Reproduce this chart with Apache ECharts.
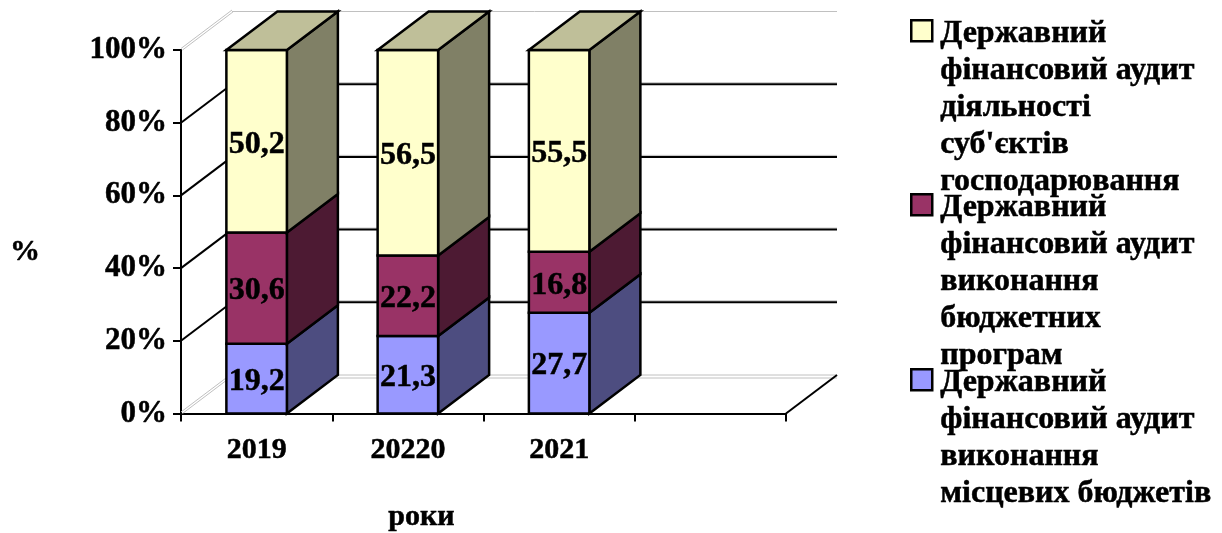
<!DOCTYPE html>
<html><head><meta charset="utf-8">
<style>html,body{margin:0;padding:0;background:#fff}#c{width:1222px;height:533px}</style>
<script src="https://cdn.jsdelivr.net/npm/echarts@6/dist/echarts.min.js"></script>
</head><body><div id="c"></div>
<script>
const categories = ['2019', '20220', '2021', ' '];
const yTicks = [0, 20, 40, 60, 80, 100];
const localBudgets = [19.2, 21.3, 27.7];
const budgetPrograms = [30.6, 22.2, 16.8];
const entities = [50.2, 56.5, 55.5];
const localLines = ['Державний', 'фінансовий аудит', 'виконання', 'місцевих бюджетів'];
const programLines = ['Державний', 'фінансовий аудит', 'виконання', 'бюджетних', 'програм'];
const entityLines = ['Державний', 'фінансовий аудит', 'діяльності', "суб'єктів", 'господарювання'];

const FONT = '"Liberation Serif"';
const DX = 51, DY = -38.5;
const heavy = { textBorderColor: '#000', textBorderWidth: 0.5 };

function segs(values, lower) {
  return values.map((v, i) => {
    const base = lower.reduce((s, a) => s + a[i], 0);
    return [i, base, base + v, v];
  });
}
function barRender(face, side, top, showTop) {
  return function (params, api) {
    const a = api.coord([api.value(0), api.value(1)]);
    const b = api.coord([api.value(0), api.value(2)]);
    const w = api.size([1, 0])[0] * 0.4;
    const l = a[0] - w / 2, r = a[0] + w / 2;
    const stroke = { stroke: '#000', lineWidth: 2.5, lineJoin: 'miter' };
    const children = [
      { type: 'polygon', shape: { points: [[r, a[1]], [r + DX, a[1] + DY], [r + DX, b[1] + DY], [r, b[1]]] }, style: Object.assign({ fill: side }, stroke) },
      { type: 'rect', shape: { x: l, y: b[1], width: w, height: a[1] - b[1] }, style: Object.assign({ fill: face }, stroke) }
    ];
    if (showTop) children.push({ type: 'polygon', shape: { points: [[l, b[1]], [l + DX, b[1] + DY], [r + DX, b[1] + DY], [r, b[1]]] }, style: Object.assign({ fill: top }, stroke) });
    children.push({ type: 'text', style: { text: String(api.value(3)).replace('.', ','), x: a[0], y: (a[1] + b[1]) / 2 + 3, align: 'center', verticalAlign: 'middle', fill: '#000', stroke: '#000', lineWidth: 0.5, font: 'bold 32px ' + FONT } });
    return { type: 'group', children };
  };
}
function wallRender(params, api) {
  const v = api.value(0);
  const p = api.coord([0, v]);
  const q = api.coord([3, v]);
  const halfBand = api.size([1, 0])[0] / 2;
  const x0 = p[0] - halfBand, x1 = q[0] + halfBand, y = p[1];
  const line = (x1a, y1a, x2a, y2a, c, lw) => ({ type: 'line', shape: { x1: x1a, y1: y1a, x2: x2a, y2: y2a }, style: { stroke: c, lineWidth: lw } });
  const ch = [];
  if (v === 0 || v === 100) {
    const grey = '#c0c0c0';
    ch.push(line(x0, y - 1.5, x0 + DX, y + DY - 1.5, grey, 1));
    ch.push(line(x0 + 1.5, y, x0 + DX + 1.5, y + DY, grey, 1));
    ch.push(line(x0 + DX, y + DY, x1 + DX, y + DY, grey, 1));
    if (v === 0) {
      ch.push(line(x0 + DX, y + DY + 3, x1 + DX, y + DY + 3, grey, 1));
      ch.push(line(x1, y, x1 + DX, y + DY, '#000', 2));
    }
  } else {
    ch.push(line(x0 + DX, y + DY - 1.5, x1 + DX, y + DY - 1.5, '#c0c0c0', 1));
    ch.push(line(x0, y, x0 + DX, y + DY, '#000', 2));
    ch.push(line(x0 + DX, y + DY, x1 + DX, y + DY, '#000', 2));
  }
  return { type: 'group', children: ch };
}
const squareIcon = h => `path://M0,0L0,0M25,${h}L25,${h}M1,5.5L22,5.5L22,26.5L1,26.5Z`;
function legendOf(name, color, lines, top) {
  const h = lines.length * 37;
  return {
    data: [name], left: 909, top, orient: 'vertical', padding: 0, selectedMode: false,
    icon: squareIcon(h), itemWidth: 25, itemHeight: h,
    itemStyle: { color, borderColor: '#000', borderWidth: 2.5 },
    formatter: () => lines.join('\n'),
    textStyle: Object.assign({ fontFamily: FONT, fontWeight: 'bold', fontSize: 32, lineHeight: 37, color: '#000' }, heavy)
  };
}
const N1 = entityLines.join(' '), N2 = programLines.join(' '), N3 = localLines.join(' ');

const chart = echarts.init(document.getElementById('c'), null, { renderer: 'canvas' });
chart.setOption({
  animation: false,
  backgroundColor: '#fff',
  tooltip: { show: false },
  title: { text: '%', left: 10, top: 237, padding: 0, textStyle: Object.assign({ color: '#000', fontFamily: FONT, fontWeight: 'bold', fontSize: 30 }, heavy) },
  grid: { left: 181, right: 436, top: 50, bottom: 119.5, outerBoundsMode: 'none' },
  legend: [
    legendOf(N1, '#FFFFCC', entityLines, 13.5),
    legendOf(N2, '#993366', programLines, 187.5),
    legendOf(N3, '#9999FF', localLines, 362.5)
  ],
  xAxis: {
    type: 'category', data: categories, boundaryGap: true,
    axisLine: { onZero: false, lineStyle: { color: '#000', width: 2 } },
    axisTick: { show: true, alignWithLabel: false, length: 8, lineStyle: { color: '#000', width: 2 } },
    axisLabel: Object.assign({ margin: 22, color: '#000', fontFamily: FONT, fontWeight: 'bold', fontSize: 30 }, heavy),
    name: 'роки', nameLocation: 'middle', nameGap: 89,
    nameTextStyle: Object.assign({ color: '#000', fontFamily: FONT, fontWeight: 'bold', fontSize: 30, padding: [0, 124, 0, 0] }, heavy)
  },
  yAxis: {
    type: 'value', min: 0, max: 100, interval: 20,
    axisLine: { show: true, lineStyle: { color: '#000', width: 2 } },
    axisTick: { show: true, length: 8, lineStyle: { color: '#000', width: 2 } },
    splitLine: { show: false },
    axisLabel: Object.assign({ margin: 14, padding: [7, 0, 0, 0], formatter: '{value}%', color: '#000', fontFamily: FONT, fontWeight: 'bold', fontSize: 31 }, heavy)
  },
  series: [
    { type: 'custom', name: 'walls', data: yTicks.map(v => [v]), renderItem: wallRender, clip: false, silent: true, z: 1, encode: { y: 0 } },
    { type: 'custom', name: N3, data: segs(localBudgets, []), renderItem: barRender('#9999FF', '#4D4D80', '#7373BF', false), itemStyle: { color: '#9999FF' }, clip: false, silent: true, z: 3, encode: { x: 0, y: [1, 2] } },
    { type: 'custom', name: N2, data: segs(budgetPrograms, [localBudgets]), renderItem: barRender('#993366', '#4D1A33', '#73264D', false), itemStyle: { color: '#993366' }, clip: false, silent: true, z: 4, encode: { x: 0, y: [1, 2] } },
    { type: 'custom', name: N1, data: segs(entities, [localBudgets, budgetPrograms]), renderItem: barRender('#FFFFCC', '#808066', '#BFBF99', true), itemStyle: { color: '#FFFFCC' }, clip: false, silent: true, z: 5, encode: { x: 0, y: [1, 2] } }
  ]
});
</script></body></html>
